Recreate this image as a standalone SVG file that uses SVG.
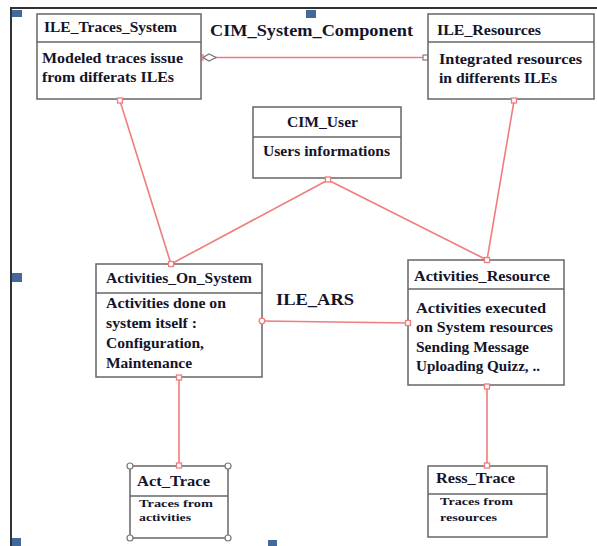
<svg xmlns="http://www.w3.org/2000/svg" width="597" height="546" viewBox="0 0 597 546">
<style>
.box{fill:#fff;stroke:#666;stroke-width:1.5}
.div{stroke:#666;stroke-width:1.5}
.t{font-family:"Liberation Serif","Times New Roman",serif;font-weight:bold;fill:#14142a;font-size:14px}
.s{font-size:11px}
.lbl{font-size:17px}
.con{stroke:#f07c7c;stroke-width:1.6;fill:none}
.end{fill:#fff;stroke:#f07c7c;stroke-width:1.3}
.hdl{fill:#45689b}
.grip{fill:#fff;stroke:#777;stroke-width:1.2}
</style>
<rect width="597" height="546" fill="#fff"/>
<g id="frame">
<line x1="11" y1="8" x2="11" y2="546" stroke="#333" stroke-width="2"/>
<line x1="10" y1="8" x2="597" y2="8" stroke="#333" stroke-width="2"/>
<rect class="hdl" x="12" y="10" width="10" height="7"/>
<rect class="hdl" x="306" y="10" width="10" height="8"/>
<rect class="hdl" x="12" y="273" width="10" height="9"/>
<rect class="hdl" x="12" y="538" width="9" height="8"/>
<rect class="hdl" x="268" y="540" width="9" height="6"/>
</g>
<g id="connectors">
<line class="con" x1="201" y1="57.5" x2="428" y2="57.5"/>
<line class="con" x1="120" y1="101" x2="171" y2="264"/>
<line class="con" x1="514" y1="101" x2="487" y2="260"/>
<line class="con" x1="328" y1="180" x2="171" y2="264"/>
<line class="con" x1="328" y1="180" x2="487" y2="260"/>
<line class="con" x1="262" y1="321" x2="408" y2="323"/>
<line class="con" x1="179" y1="380" x2="179" y2="466"/>
<line class="con" x1="487" y1="387" x2="487" y2="466"/>
<rect class="end" x="198" y="55" width="5" height="5"/>
<path d="M203 57.5 L209 54 L216 57.5 L209 61 Z" fill="#fff" stroke="#777" stroke-width="1.3"/>
<rect x="423" y="55" width="5" height="5" fill="#fff" stroke="#888" stroke-width="1.3"/>
<text class="t lbl" x="210" y="36" textLength="203" lengthAdjust="spacingAndGlyphs">CIM_System_Component</text>
<text class="t lbl" x="276" y="305" textLength="78" lengthAdjust="spacingAndGlyphs">ILE_ARS</text>
</g>
<g id="ILE_Traces_System">
<rect class="box" x="37" y="14" width="164" height="85"/>
<line class="div" x1="37" y1="42" x2="201" y2="42"/>
<text class="t" x="44" y="32" textLength="133" lengthAdjust="spacingAndGlyphs">ILE_Traces_System</text>
<text class="t" x="42" y="63" textLength="141" lengthAdjust="spacingAndGlyphs">Modeled traces issue</text>
<text class="t" x="42" y="82" textLength="132" lengthAdjust="spacingAndGlyphs">from differats ILEs</text>
</g>
<g id="ILE_Resources">
<rect class="box" x="428" y="14" width="166" height="85"/>
<line class="div" x1="428" y1="42" x2="594" y2="42"/>
<text class="t" x="437" y="35" textLength="104" lengthAdjust="spacingAndGlyphs">ILE_Resources</text>
<text class="t" x="439" y="64" textLength="143" lengthAdjust="spacingAndGlyphs">Integrated resources</text>
<text class="t" x="439" y="83" textLength="118" lengthAdjust="spacingAndGlyphs">in differents ILEs</text>
</g>
<g id="CIM_User">
<rect class="box" x="253" y="107" width="148" height="71"/>
<line class="div" x1="253" y1="137" x2="401" y2="137"/>
<text class="t" x="287" y="127" textLength="71" lengthAdjust="spacingAndGlyphs">CIM_User</text>
<text class="t" x="263" y="156" textLength="127" lengthAdjust="spacingAndGlyphs">Users informations</text>
</g>
<g id="Activities_On_System">
<rect class="box" x="96" y="264" width="166" height="113"/>
<line class="div" x1="96" y1="293" x2="262" y2="293"/>
<text class="t" x="106" y="283" textLength="146" lengthAdjust="spacingAndGlyphs">Activities_On_System</text>
<text class="t" x="106" y="308" textLength="120" lengthAdjust="spacingAndGlyphs">Activities done on</text>
<text class="t" x="106" y="328" textLength="91" lengthAdjust="spacingAndGlyphs">system itself :</text>
<text class="t" x="106" y="348" textLength="98" lengthAdjust="spacingAndGlyphs">Configuration,</text>
<text class="t" x="106" y="368" textLength="86" lengthAdjust="spacingAndGlyphs">Maintenance</text>
</g>
<g id="Activities_Resource">
<rect class="box" x="408" y="260" width="156" height="125"/>
<line class="div" x1="408" y1="289" x2="564" y2="289"/>
<text class="t" x="414" y="281" textLength="136" lengthAdjust="spacingAndGlyphs">Activities_Resource</text>
<text class="t" x="416" y="313" textLength="130" lengthAdjust="spacingAndGlyphs">Activities executed</text>
<text class="t" x="416" y="332" textLength="137" lengthAdjust="spacingAndGlyphs">on System resources</text>
<text class="t" x="416" y="352" textLength="113" lengthAdjust="spacingAndGlyphs">Sending Message</text>
<text class="t" x="416" y="371" textLength="124" lengthAdjust="spacingAndGlyphs">Uploading Quizz, ..</text>
</g>
<g id="Act_Trace">
<rect class="box" x="130" y="466" width="98" height="72"/>
<line class="div" x1="130" y1="496" x2="228" y2="496"/>
<text class="t" x="137" y="486" textLength="73" lengthAdjust="spacingAndGlyphs">Act_Trace</text>
<text class="t s" x="139" y="507" textLength="74" lengthAdjust="spacingAndGlyphs">Traces from</text>
<text class="t s" x="139" y="521" textLength="52" lengthAdjust="spacingAndGlyphs">activities</text>
<circle class="grip" cx="130" cy="466" r="3"/>
<circle class="grip" cx="228" cy="466" r="3"/>
<circle class="grip" cx="130" cy="538" r="3"/>
<circle class="grip" cx="228" cy="538" r="3"/>
</g>
<g id="Ress_Trace">
<rect class="box" x="428" y="466" width="119" height="71"/>
<line class="div" x1="428" y1="494" x2="547" y2="494"/>
<text class="t" x="436" y="483" textLength="79" lengthAdjust="spacingAndGlyphs">Ress_Trace</text>
<text class="t s" x="440" y="505" textLength="73" lengthAdjust="spacingAndGlyphs">Traces from</text>
<text class="t s" x="440" y="521" textLength="57" lengthAdjust="spacingAndGlyphs">resources</text>
</g>
<g id="endpoints">
<rect class="end" x="117.5" y="98" width="5" height="5"/>
<rect class="end" x="511.5" y="98" width="5" height="5"/>
<rect class="end" x="325.5" y="177" width="5" height="5"/>
<rect class="end" x="168.5" y="261.5" width="5" height="5"/>
<rect class="end" x="484.5" y="257.5" width="5" height="5"/>
<circle class="end" cx="262" cy="321" r="2.8"/>
<rect class="end" x="405.5" y="320.5" width="5" height="5"/>
<rect class="end" x="176.5" y="375" width="5" height="5"/>
<rect class="end" x="176.5" y="463" width="5" height="5"/>
<rect class="end" x="484.5" y="384" width="5" height="5"/>
<rect class="end" x="484.5" y="463" width="5" height="5"/>
</g>
</svg>
